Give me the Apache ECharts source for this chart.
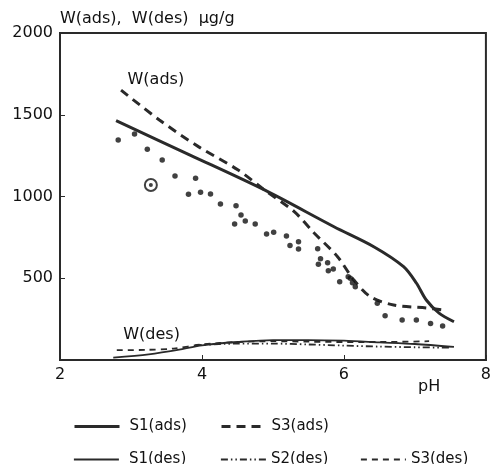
<!DOCTYPE html>
<html>
<head>
<meta charset="utf-8">
<script src="https://cdn.jsdelivr.net/npm/echarts@6/dist/echarts.min.js"></script>
<style>html,body{margin:0;padding:0;background:#fff}#c{width:494px;height:464px}</style>
</head>
<body>
<div id="c"></div>
<script>
// ---- data ----
var xTicks = [2, 4, 6, 8];
var yTicks = [0, 500, 1000, 1500, 2000];
var s1Ads = [[2.79,1464],[3.84,1252],[4.88,1040],[5.86,815],[6.42,693],[6.84,571],[7.02,471],[7.16,367],[7.34,287],[7.55,234]];
var s3Ads = [[2.86,1651],[3.40,1468],[3.95,1305],[4.51,1162],[4.88,1040],[5.30,907],[5.58,777],[5.91,632],[6.14,489],[6.37,388],[6.70,336],[7.16,318],[7.40,306]];
var s2AdsDots = [[2.82,1346],[3.05,1382],[3.23,1289],[3.44,1223],[3.62,1125],[3.91,1111],[3.81,1013],[3.98,1026],[4.12,1015],[4.26,954],[4.48,944],[4.55,887],[4.61,850],[4.46,832],[4.75,832],[4.91,770],[5.01,781],[5.19,758],[5.24,701],[5.36,724],[5.36,679],[5.63,681],[5.67,620],[5.64,585],[5.77,595],[5.78,546],[5.85,557],[5.94,479],[6.06,509],[6.09,500],[6.12,473],[6.16,448],[6.47,347],[6.58,271],[6.82,245],[7.02,245],[7.22,224],[7.39,208]];
var circledPoint = [[3.28,1070]];
var s1Des = [[2.75,15],[3.25,35],[3.7,65],[4.0,90],[4.5,110],[5.0,122],[5.5,122],[6.0,118],[6.5,108],[7.0,98],[7.55,80]];
var s2Des = [[3.9,90],[4.5,100],[5.0,100],[5.5,95],[6.0,88],[6.5,82],[7.0,78],[7.5,75]];
var s3Des = [[2.8,60],[3.2,62],[3.6,70],[4.0,95],[4.5,110],[5.0,115],[5.5,112],[6.0,110],[6.5,110],[7.2,115]];
var curveLabels = [{name:'W(ads)', value:[3.35,1712]},{name:'W(des)', value:[3.29,153]}];
var yTitle = 'W(ads),  W(des)  μg/g';
var xTitle = 'pH';
var legendItems = ['S1(ads)', 'S3(ads)', 'S1(des)', 'S2(des)', 'S3(des)'];

var C = '#2a2a2a';
var FONT = 'DejaVu Sans';
var chart = echarts.init(document.getElementById('c'), null, {renderer:'canvas'});
function lineSeries(name, data, width, type){
  return {name:name, type:'line', data:data, smooth:0.3, showSymbol:false, symbol:'none',
    lineStyle:{color:C, width:width, type:type}, itemStyle:{color:C}, z:3, animation:false};
}
var legendPos = [[73,419],[220,419],[73,452],[220,452],[360,452]];
var legendW = [3, 3, 1.8, 1.8, 1.8];
var legendPad = [5, 0, 5, 0, 0];
var legends = legendItems.map(function(n,i){
  return {data:[n], left:legendPos[i][0], top:legendPos[i][1], padding:0, itemWidth:45, itemHeight:14,
    itemStyle:{opacity:0}, lineStyle:{width:legendW[i]}, selectedMode:false,
    textStyle:{fontSize:15, color:'#111', padding:[0,0,0,legendPad[i]], fontFamily:FONT}};
});
chart.setOption({
  animation:false,
  textStyle:{fontFamily:FONT},
  grid:{left:60, right:4, top:33, bottom:104, show:true, borderColor:C, borderWidth:2},
  xAxis:{type:'value', min:xTicks[0], max:xTicks[xTicks.length-1], interval:2,
    axisLine:{lineStyle:{color:C, width:2}}, axisTick:{inside:true, length:5, lineStyle:{color:C}},
    axisLabel:{color:'#111', fontSize:16, margin:7, fontFamily:FONT}, splitLine:{show:false}},
  yAxis:{type:'value', min:yTicks[0], max:yTicks[yTicks.length-1], interval:500,
    name:yTitle, nameLocation:'end', nameGap:14,
    nameTextStyle:{align:'left', verticalAlign:'middle', fontSize:16, color:'#111', fontFamily:FONT},
    axisLine:{lineStyle:{color:C, width:2}}, axisTick:{inside:true, length:5, lineStyle:{color:C}},
    axisLabel:{color:'#111', fontSize:16, margin:7, fontFamily:FONT, formatter:function(v){return v===0?'':v;}},
    splitLine:{show:false}},
  legend:legends,
  graphic:[{type:'text', left:418, top:379, style:{text:xTitle, font:'16px "DejaVu Sans"', fill:'#111'}}],
  series:[
    lineSeries('S1(ads)', s1Ads, 3, 'solid'),
    lineSeries('S3(ads)', s3Ads, 3, [9,6]),
    lineSeries('S1(des)', s1Des, 1.8, 'solid'),
    lineSeries('S2(des)', s2Des, 1.8, [7,3,1.5,3,1.5,3]),
    lineSeries('S3(des)', s3Des, 1.8, [6,5]),
    {name:'S2(ads)', type:'scatter', data:s2AdsDots, symbol:'circle', symbolSize:5.5, itemStyle:{color:'#111'}, z:4, animation:false},
    {name:'circled', type:'scatter', data:circledPoint, symbol:'emptyCircle', symbolSize:12, itemStyle:{color:'#111', borderWidth:1.5, borderColor:'#111'}, z:4, animation:false},
    {name:'circledDot', type:'scatter', data:circledPoint, symbol:'circle', symbolSize:4, itemStyle:{color:'#111'}, z:5, animation:false},
    {name:'labels', type:'scatter', data:curveLabels, symbolSize:0, animation:false, z:6,
      itemStyle:{opacity:1},
      label:{show:true, position:'inside', formatter:'{b}', fontSize:16, color:'#111', opacity:1, fontFamily:FONT, backgroundColor:'#fff'}}
  ]
});
</script>
</body>
</html>
